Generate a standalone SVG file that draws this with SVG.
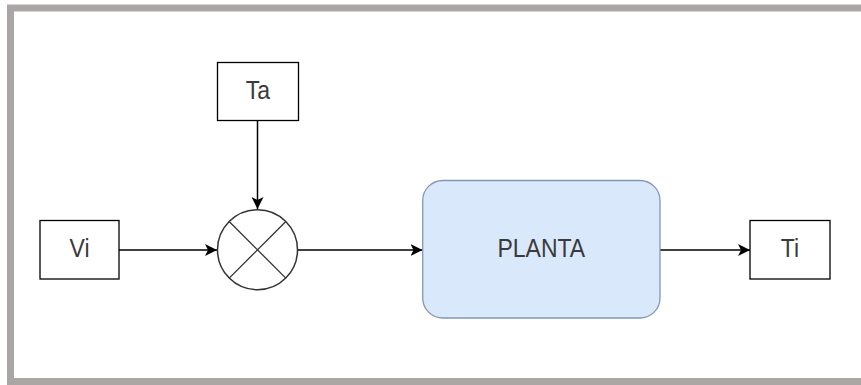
<svg xmlns="http://www.w3.org/2000/svg" width="861" height="385" viewBox="0 0 861 385">
<style>
.box{fill:#fff;stroke:#000;stroke-width:1.3}
.lbl{font-family:"Liberation Sans",Arial,sans-serif;font-size:23px;fill:#3a3a3a;text-anchor:middle}
.edge{stroke:#000;stroke-width:1.5;fill:none}
</style>
<defs>
<marker id="arr" markerUnits="userSpaceOnUse" markerWidth="14" markerHeight="12" viewBox="0 0 14 12" refX="12" refY="6" orient="auto">
<path d="M0,0 L12,6 L0,12 L3,6 Z" fill="#000"/>
</marker>
</defs>
<rect width="861" height="385" fill="#fff"/>
<path d="M10.5,385 L10.5,8 L861,8" fill="none" stroke="#aaa6a6" stroke-width="7"/>
<path d="M10.5,381.5 L861,381.5" fill="none" stroke="#aaa6a6" stroke-width="7"/>
<g id="connectors">
<line class="edge" x1="257.5" y1="120" x2="257.5" y2="209" marker-end="url(#arr)"/>
<line class="edge" x1="119" y1="250" x2="217" y2="250" marker-end="url(#arr)"/>
<line class="edge" x1="297.5" y1="250" x2="422.5" y2="250" marker-end="url(#arr)"/>
<line class="edge" x1="660" y1="250" x2="750" y2="250" marker-end="url(#arr)"/>
</g>
<g id="Ta">
<rect class="box" x="217.5" y="62.5" width="81" height="58"/>
<text class="lbl" transform="translate(258,99) scale(1,1.15)">Ta</text>
</g>
<g id="Vi">
<rect class="box" x="40" y="220.5" width="79" height="58.5"/>
<text class="lbl" transform="translate(79.5,257) scale(1,1.15)">Vi</text>
</g>
<g id="sum">
<circle cx="257.5" cy="249.8" r="40" fill="#fff" stroke="#333" stroke-width="1.5"/>
<path d="M229.2,221.5 L285.8,278.1 M285.8,221.5 L229.2,278.1" stroke="#333" stroke-width="1.3"/>
</g>
<g id="PLANTA">
<rect x="422.7" y="180.5" width="237.3" height="137.5" rx="20" ry="20" fill="#dae8fc" stroke="#8296b3" stroke-width="1.3"/>
<text class="lbl" transform="translate(541.3,257.3) scale(1,1.15)">PLANTA</text>
</g>
<g id="Ti">
<rect class="box" x="750" y="220.5" width="80" height="58.5"/>
<text class="lbl" transform="translate(790,257) scale(1,1.15)">Ti</text>
</g>
</svg>
